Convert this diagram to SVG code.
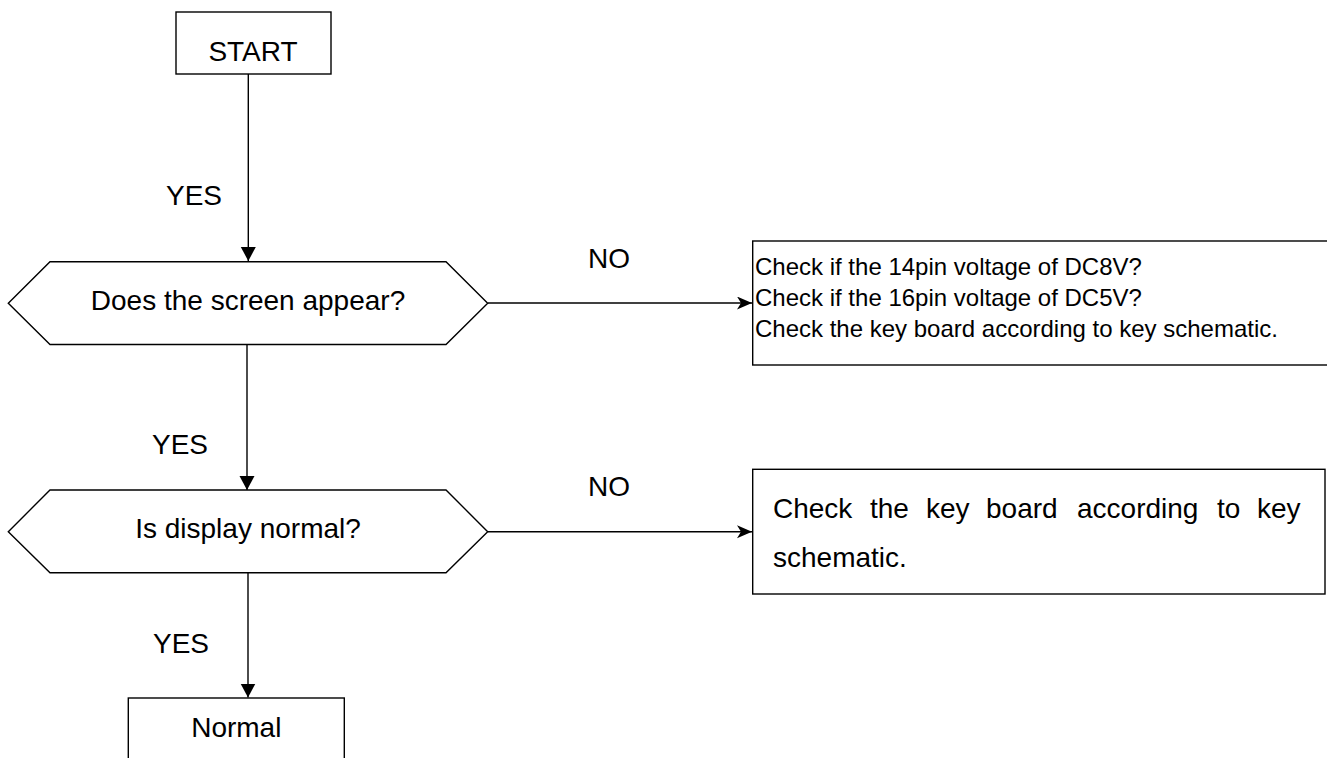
<svg xmlns="http://www.w3.org/2000/svg" width="1327" height="758" viewBox="0 0 1327 758">
<style>
.shape{fill:#fff;stroke:#000;stroke-width:1.4}
.t{font-family:"Liberation Sans",Arial,sans-serif;fill:#000}
.big{font-size:28px}
.mid{font-size:24px}
.c{text-anchor:middle}
.edge{fill:none;stroke:#000;stroke-width:1.4}
</style>
<defs>
<marker id="tri" markerUnits="userSpaceOnUse" markerWidth="15" markerHeight="16" refX="14" refY="7.5" orient="auto" viewBox="0 0 15 16">
<path d="M0,0 L14,7.5 L0,15 z" fill="#000"/>
</marker>
<marker id="cls" markerUnits="userSpaceOnUse" markerWidth="16" markerHeight="14" refX="15" refY="6.5" orient="auto" viewBox="0 0 16 14">
<path d="M0,0 L15,6.5 L0,13 L4,6.5 z" fill="#000"/>
</marker>
</defs>
<g id="connectors">
<line class="edge" x1="248.3" y1="74" x2="248.3" y2="261" marker-end="url(#tri)"/>
<line class="edge" x1="488" y1="303" x2="752" y2="303" marker-end="url(#cls)"/>
<line class="edge" x1="247" y1="344.5" x2="247" y2="490" marker-end="url(#tri)"/>
<line class="edge" x1="488" y1="531.7" x2="752" y2="531.7" marker-end="url(#cls)"/>
<line class="edge" x1="248" y1="572.7" x2="248" y2="697.5" marker-end="url(#tri)"/>
<text class="t big" x="166" y="205">YES</text>
<text class="t big" x="588" y="268">NO</text>
<text class="t big" x="152" y="454">YES</text>
<text class="t big" x="588" y="496">NO</text>
<text class="t big" x="153" y="653">YES</text>
</g>
<g id="start">
<rect class="shape" x="176" y="12" width="155" height="62"/>
<text class="t big c" x="253" y="61">START</text>
</g>
<g id="q1">
<polygon class="shape" points="8.3,303.3 50,261.7 446,261.7 487.7,303.3 446,344.5 50,344.5"/>
<text class="t big c" x="248" y="310">Does the screen appear?</text>
</g>
<g id="check1">
<rect class="shape" x="752.7" y="241" width="600" height="124"/>
<text class="t mid" x="755" y="275">Check if the 14pin voltage of DC8V?</text>
<text class="t mid" x="755" y="306">Check if the 16pin voltage of DC5V?</text>
<text class="t mid" x="755" y="337">Check the key board according to key schematic.</text>
</g>
<g id="q2">
<polygon class="shape" points="8.3,531.7 50,490 446,490 487.7,531.7 446,572.7 50,572.7"/>
<text class="t big c" x="248" y="538">Is display normal?</text>
</g>
<g id="check2">
<rect class="shape" x="752.7" y="469.3" width="572.3" height="124.7"/>
<text class="t big" y="518"><tspan x="773">Check</tspan><tspan x="870">the</tspan><tspan x="926">key</tspan><tspan x="986">board</tspan><tspan x="1077">according</tspan><tspan x="1217">to</tspan><tspan x="1257">key</tspan></text>
<text class="t big" x="773" y="567">schematic.</text>
</g>
<g id="normal">
<rect class="shape" x="128.3" y="698" width="216" height="80"/>
<text class="t big c" x="236.3" y="737">Normal</text>
</g>
</svg>
